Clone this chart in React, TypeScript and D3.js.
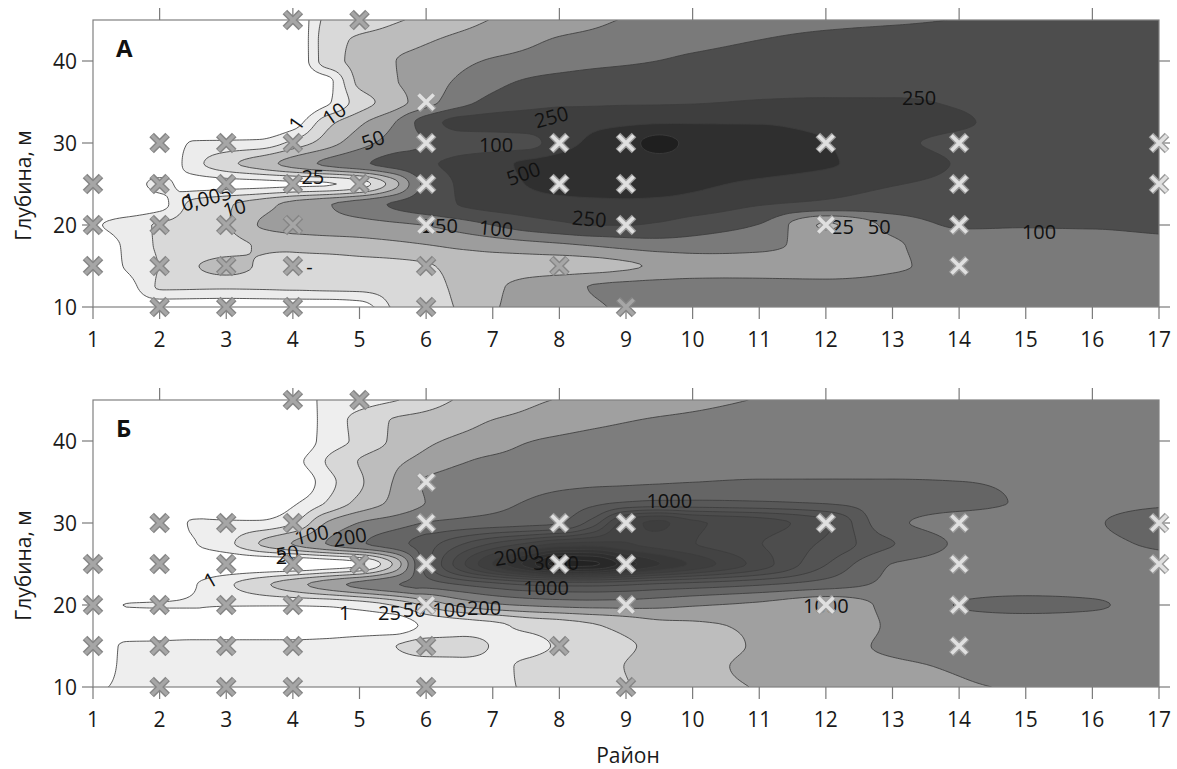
import React, { useMemo } from 'react';
import * as d3 from 'd3';

// ---------- DATA ----------
// grid knots: district (x) and depth (rows, top to bottom)
const districtKnots = [1, 1.5, 2, 2.5, 3, 3.5, 4, 4.5, 5, 5.5, 6, 6.5, 7, 7.5, 8, 8.5, 9, 9.5, 10, 11, 12, 13, 14, 15, 16, 17];
const depthKnots = [45, 42.5, 40, 37.5, 35, 32.5, 30, 27.5, 25, 22.5, 20, 17.5, 15, 12.5, 10];

// contour levels
const levelsA = [0.005, 1, 10, 25, 50, 100, 250, 500, 1000];
const levelsB = [1, 25, 50, 100, 200, 500, 1000, 1200, 1400, 1600, 1800, 2000, 2200, 2400, 2600, 2800, 3000];

// panel A abundance estimated on the knot grid
const abundanceA = [
  [0, 0, 0, 0, 0, 0, 0, 2.8, 4.6, 8.7, 13.8, 19.8, 26, 32.5, 38.8, 45, 52.5, 57.5, 62.5, 70, 80, 90, 107, 145, 168, 175],
  [0, 0, 0, 0, 0, 0, 0, 5.5, 12.3, 17.5, 23.5, 31, 37.5, 45, 55, 62.5, 70, 77.5, 85, 102, 145, 168, 175, 175, 175, 175],
  [0, 0, 0, 0, 0, 0, 0, 5.5, 14.5, 24.3, 33.8, 43.8, 55, 65, 75, 85, 92.5, 102, 130, 160, 175, 175, 175, 175, 175, 175],
  [0, 0, 0, 0, 0, 0, 0, 0.003, 13.8, 23.5, 37.5, 57.5, 85, 115, 152, 175, 190, 198, 205, 212, 205, 190, 182, 175, 175, 175],
  [0, 0, 0, 0, 0, 0, 0, 0.004, 5.5, 17.5, 40, 80, 145, 190, 220, 228, 235, 238, 242, 262, 275, 275, 235, 190, 175, 175],
  [0, 0, 0, 0, 0, 0, 0.0025, 6.4, 22, 47.5, 175, 325, 350, 375, 400, 437, 462, 480, 487, 487, 425, 350, 275, 205, 175, 175],
  [0, 0, 0, 0.1, 0.2, 0.3, 3.7, 17.5, 40, 70, 97.5, 175, 175, 190, 400, 600, 800, 1200, 850, 700, 520, 300, 220, 190, 175, 175],
  [0, 0, 0, 0.6, 7.3, 17.5, 35, 60, 90, 160, 228, 312, 425, 575, 700, 750, 775, 775, 750, 700, 550, 375, 242, 205, 182, 175],
  [0, 0.0015, 0.3, 0.0025, 0.003, 0.0035, 0.004, 0.0045, 0.5, 17.5, 145, 275, 375, 510, 650, 700, 700, 675, 600, 450, 350, 262, 220, 190, 175, 175],
  [0, 0, 0.003, 3.7, 8.65, 19, 32.5, 47.5, 75, 115, 190, 255, 325, 375, 412, 437, 450, 437, 400, 262, 220, 190, 175, 160, 145, 145],
  [0.004, 0.5, 1.9, 3.7, 9.1, 26, 32.5, 37.5, 40, 45, 52, 75, 102, 175, 220, 255, 255, 228, 175, 98, 23.5, 65, 115, 107, 107, 115],
  [0, 0.2, 1.9, 3.7, 6.4, 11.5, 14.5, 16.75, 19, 21.25, 24.25, 30, 35, 40, 45, 52, 65, 75, 77.5, 65, 40, 47.5, 75, 85, 90, 92.5],
  [0.001, 0.1, 1.45, 9.1, 14.5, 9.1, 5.5, 5.5, 6.4, 7.3, 9.1, 14.5, 17.5, 17.5, 17.5, 19, 22.75, 28.75, 33.75, 37.5, 37.5, 47.5, 60, 67.5, 70, 72.5],
  [0, 0.0025, 1.9, 2.8, 2.8, 2.8, 2.8, 3.25, 3.7, 4.6, 7.3, 13, 22, 32.5, 42.5, 52, 60, 65, 67.5, 65, 62.5, 65, 67.5, 70, 72.5, 75],
  [0, 0, 0, 0, 0, 0, 0, 0, 0.0015, 1.9, 6.4, 11.5, 23.5, 32.5, 40, 47.5, 55, 60, 65, 67.5, 67.5, 70, 72.5, 75, 75, 75],
];

// panel Б abundance estimated on the knot grid
const abundanceB = [
  [0, 0, 0, 0, 0, 0, 0, 8.2, 13, 22.6, 37.5, 55, 72.5, 90, 105, 120, 135, 150, 170, 215, 290, 320, 335, 350, 350, 350],
  [0, 0, 0, 0, 0, 0, 0, 10.6, 32.5, 52.5, 67.5, 82.5, 102, 125, 150, 175, 195, 230, 260, 320, 350, 365, 365, 350, 350, 350],
  [0, 0, 0, 0, 0, 0, 0, 11.8, 31, 57.5, 90, 120, 150, 195, 245, 290, 320, 350, 365, 380, 380, 380, 365, 350, 350, 350],
  [0, 0, 0, 0, 0, 0, 0.6, 26, 52.5, 87.5, 135, 190, 260, 305, 335, 365, 395, 410, 425, 440, 440, 425, 395, 365, 350, 350],
  [0, 0, 0, 0, 0, 0, 0, 15.4, 46, 102, 230, 320, 365, 395, 425, 455, 470, 485, 498, 525, 525, 525, 505, 470, 410, 380],
  [0, 0, 0, 0, 0, 0, 0.8, 26, 65, 120, 205, 320, 410, 525, 700, 875, 1010, 1040, 1040, 1020, 950, 750, 600, 485, 455, 470],
  [0, 0, 0, 3.4, 4.6, 5.8, 22.6, 105, 210, 350, 525, 650, 750, 850, 975, 1300, 1900, 2040, 1840, 1700, 1440, 600, 410, 425, 485, 625],
  [0, 0, 0, 0.9, 17.8, 52, 105, 205, 455, 800, 1100, 1360, 1610, 1810, 2010, 2060, 2010, 1920, 1810, 1610, 1360, 1010, 470, 410, 455, 550],
  [0, 0, 0, 0, 0, 0, 0, 0.3, 0.8, 52, 1100, 1710, 2210, 2660, 3080, 3040, 2700, 2410, 2160, 1710, 1210, 495, 410, 395, 410, 425],
  [0, 0, 0.2, 0.9, 20, 42.5, 80, 150, 290, 470, 700, 1005, 1120, 1220, 1260, 1260, 1220, 1160, 1120, 1020, 750, 440, 380, 380, 380, 380],
  [0.3, 1.5, 2.2, 2.2, 2.2, 2.2, 2.2, 3.4, 10.6, 26, 60, 120, 180, 230, 290, 320, 320, 290, 230, 180, 140, 290, 520, 650, 560, 350],
  [0, 0.3, 0.3, 0.3, 0.3, 0.3, 0.3, 0.3, 0.3, 0.3, 5.8, 13, 20.2, 30, 37.5, 47.5, 65, 85, 92.5, 115, 150, 230, 350, 350, 350, 350],
  [0.3, 3.4, 4.6, 5.8, 5.8, 5.8, 5.8, 8.2, 15.4, 24, 35, 35, 24, 20.2, 27.5, 37.5, 47.5, 60, 80, 110, 165, 240, 320, 350, 350, 350],
  [0.6, 3.4, 5.8, 5.8, 5.8, 5.8, 5.8, 7, 9.4, 13, 15.4, 17.8, 21.4, 27.5, 35, 42.5, 51, 65, 85, 120, 160, 185, 230, 320, 350, 350],
  [0.9, 3.4, 5.8, 5.8, 5.8, 5.8, 5.8, 7, 8.2, 10.6, 13, 17.8, 22.6, 26.2, 32.5, 40, 48.75, 65, 85, 105, 140, 170, 190, 230, 280, 305],
];

// sampling stations
const stationDistricts = [1, 1, 1, 2, 2, 2, 2, 2, 3, 3, 3, 3, 3, 4, 4, 4, 4, 4, 4, 5, 5, 6, 6, 6, 6, 6, 6, 8, 8, 8, 9, 9, 9, 9, 12, 12, 14, 14, 14, 14, 17, 17];
const stationDepths = [15, 20, 25, 10, 15, 20, 25, 30, 10, 15, 20, 25, 30, 10, 15, 20, 25, 30, 45, 25, 45, 10, 15, 20, 25, 30, 35, 15, 25, 30, 10, 20, 25, 30, 20, 30, 15, 20, 25, 30, 25, 30];

// contour labels (text at district / depth)
const labelsA = [
  { x: 4.05, d: 32.4, text: '1', angle: -55 },
  { x: 4.62, d: 33.6, text: '10', angle: -35 },
  { x: 5.2, d: 30.4, text: '50', angle: -20 },
  { x: 4.3, d: 25.9, text: '25', angle: 0 },
  { x: 2.45, d: 23.0, text: '1', angle: -15 },
  { x: 2.7, d: 23.3, text: '0,005', angle: -15 },
  { x: 3.12, d: 22.1, text: '10', angle: -15 },
  { x: 4.25, d: 14.9, text: '-', angle: 0 },
  { x: 7.05, d: 29.8, text: '100', angle: 0 },
  { x: 7.88, d: 33.2, text: '250', angle: -15 },
  { x: 7.46, d: 26.3, text: '500', angle: -20 },
  { x: 8.45, d: 20.8, text: '250', angle: 5 },
  { x: 5.97, d: 20.0, text: '2', angle: 0 },
  { x: 6.22, d: 20.0, text: '250', angle: 0 },
  { x: 7.05, d: 19.6, text: '100', angle: 5 },
  { x: 13.4, d: 35.5, text: '250', angle: 0 },
  { x: 15.2, d: 19.2, text: '100', angle: 0 },
  { x: 12.25, d: 19.8, text: '25', angle: 0 },
  { x: 12.8, d: 19.8, text: '50', angle: 0 },
];
const labelsB = [
  { x: 4.28, d: 28.6, text: '100', angle: -12 },
  { x: 4.85, d: 28.3, text: '200', angle: -10 },
  { x: 3.83, d: 25.9, text: '2', angle: 0 },
  { x: 3.92, d: 26.3, text: '50', angle: -10 },
  { x: 2.76, d: 23.05, text: '1', angle: -30 },
  { x: 4.78, d: 19.1, text: '1', angle: 0 },
  { x: 5.45, d: 19.1, text: '25', angle: 0 },
  { x: 5.82, d: 19.5, text: '50', angle: 0 },
  { x: 6.35, d: 19.5, text: '100', angle: 0 },
  { x: 6.87, d: 19.7, text: '200', angle: 0 },
  { x: 7.8, d: 22.1, text: '1000', angle: 0 },
  { x: 7.36, d: 26.1, text: '2000', angle: -10 },
  { x: 7.95, d: 25.2, text: '3000', angle: 0 },
  { x: 9.65, d: 32.8, text: '1000', angle: 0 },
  { x: 12.0, d: 20.0, text: '1000', angle: 0 },
];

const districtTicks = d3.range(1, 18);
const depthTicks = [10, 20, 30, 40];

// ---------- STYLES ----------
const colorsA = ['#ffffff', '#ececec', '#d9d9d9', '#bcbcbc', '#9d9d9d', '#7a7a7a', '#4d4d4d', '#3e3e3e', '#2f2f2f', '#1f1f1f'];
const darkRamp = d3.interpolateRgb('#585858', '#232323');
const colorsB = ['#ffffff', '#eeeeee', '#d7d7d7', '#bdbdbd', '#a0a0a0', '#7d7d7d', '#656565',
  ...d3.range(11).map((i) => darkRamp(i / 10))];
const FONT = "'Open Sans', 'Noto Sans', sans-serif";

const X0 = 93, X1 = 1159;
const xScale = d3.scaleLinear().domain([1, 17]).range([X0, X1]);

function monotone(xs: number[], ys: number[]) {
  const n = xs.length;
  const h: number[] = [], dl: number[] = [];
  for (let i = 0; i < n - 1; i++) { h[i] = xs[i + 1] - xs[i]; dl[i] = (ys[i + 1] - ys[i]) / h[i]; }
  const m: number[] = new Array(n);
  m[0] = dl[0]; m[n - 1] = dl[n - 2];
  for (let i = 1; i < n - 1; i++) {
    if (dl[i - 1] * dl[i] <= 0) m[i] = 0;
    else {
      const w1 = 2 * h[i] + h[i - 1], w2 = h[i] + 2 * h[i - 1];
      m[i] = (w1 + w2) / (w1 / dl[i - 1] + w2 / dl[i]);
    }
  }
  return (x: number) => {
    let k = 0;
    while (k < n - 2 && x > xs[k + 1]) k++;
    const hh = h[k];
    const t = Math.max(0, Math.min(1, (x - xs[k]) / hh));
    const t2 = t * t, t3 = t2 * t;
    return (2 * t3 - 3 * t2 + 1) * ys[k] + (t3 - 2 * t2 + t) * hh * m[k] + (-2 * t3 + 3 * t2) * ys[k + 1] + (t3 - t2) * hh * m[k + 1];
  };
}

function buildField(grid: number[][], levels: number[]) {
  const toT = d3.scaleLinear().domain([0, ...levels]).range(d3.range(levels.length + 1));
  const tg = grid.map((row) => row.map((v) => toT(v)));
  const nx = 321, ny = 141;
  const dx = 16 / (nx - 1), dy = 35 / (ny - 1);
  const rowsFine = tg.map((row) => { const f = monotone(districtKnots, row); return d3.range(nx).map((i) => f(1 + i * dx)); });
  const uKnots = depthKnots.map((d) => 45 - d);
  const values: number[] = new Array(nx * ny);
  for (let i = 0; i < nx; i++) {
    const g = monotone(uKnots, rowsFine.map((r) => r[i]));
    for (let j = 0; j < ny; j++) values[j * nx + i] = g(j * dy);
  }
  return { values, nx, ny, dx, dy };
}

// marker shading as seen in the picture: grey markers on the left and shallow stations
const isGreyMarker = (x: number, d: number) => x <= 5 || (d <= 15 && x <= 9);

function Panel({ id, title, top, bottom, grid, levels, colors, labels, showXTitle }: any) {
  const yScale = d3.scaleLinear().domain([10, 45]).range([bottom, top]);
  const paths = useMemo(() => {
    const { values, nx, ny, dx, dy } = buildField(grid, levels);
    const cont = d3.contours().size([nx, ny]).thresholds(d3.range(1, levels.length + 1))(values);
    const proj = d3.geoTransform({
      point: function (x: number, y: number) {
        (this as any).stream.point(xScale(1 + (x - 0.5) * dx), yScale(45 - (y - 0.5) * dy));
      },
    });
    const gp = d3.geoPath(proj as any);
    return cont.map((c: any, k: number) => ({ d: gp(c) || '', fill: colors[k + 1] }));
  }, [grid, levels]);

  const clipId = `clip-${id}`;
  return (
    <g>
      <defs>
        <clipPath id={clipId}>
          <rect x={X0} y={top} width={X1 - X0} height={bottom - top} />
        </clipPath>
      </defs>
      <rect x={X0} y={top} width={X1 - X0} height={bottom - top} fill={colors[0]} />
      <g clipPath={`url(#${clipId})`}>
        {paths.map((p: any, k: number) => (
          <path key={k} d={p.d} fill={p.fill} stroke="#3c3c3c" strokeWidth={0.85} strokeLinejoin="round" />
        ))}
      </g>
      <rect x={X0} y={top} width={X1 - X0} height={bottom - top} fill="none" stroke="#808080" strokeWidth={1.2} />
      {districtTicks.map((v) => (
        <g key={`bx${v}`}>
          <line x1={xScale(v)} x2={xScale(v)} y1={bottom} y2={bottom + 12} stroke="#7a7a7a" strokeWidth={1.2} />
          <text x={xScale(v)} y={bottom + 40} textAnchor="middle" fontFamily={FONT} fontSize={21} fill="#1a1a1a">{v}</text>
        </g>
      ))}
      {districtTicks.filter((v) => v % 2 === 0).map((v) => (
        <line key={`tx${v}`} x1={xScale(v)} x2={xScale(v)} y1={top} y2={top - 12} stroke="#7a7a7a" strokeWidth={1.2} />
      ))}
      {depthTicks.map((v) => (
        <g key={`y${v}`}>
          <line x1={X0} x2={X0 - 11} y1={yScale(v)} y2={yScale(v)} stroke="#7a7a7a" strokeWidth={1.2} />
          <line x1={X1} x2={X1 + 11} y1={yScale(v)} y2={yScale(v)} stroke="#7a7a7a" strokeWidth={1.2} />
          <text x={77} y={yScale(v) + 7.5} textAnchor="end" fontFamily={FONT} fontSize={21} fill="#1a1a1a">{v}</text>
        </g>
      ))}
      <text transform={`translate(31,${(top + bottom) / 2 + 22}) rotate(-90)`} textAnchor="middle" fontFamily={FONT} fontSize={21} fill="#1a1a1a">Глубина, м</text>
      <text x={116} y={top + 37} fontFamily={FONT} fontSize={24} fontWeight="bold" fill="#111">{title}</text>
      {labels.map((l: any, k: number) => (
        <text key={`l${k}`} transform={`translate(${xScale(l.x)},${yScale(l.d)}) rotate(${l.angle})`} textAnchor="middle" dominantBaseline="central" fontFamily={FONT} fontSize={20} fill="#111">{l.text}</text>
      ))}
      {stationDistricts.map((x, k) => {
        const d = stationDepths[k];
        const grey = isGreyMarker(x, d);
        const outer = grey ? '#858585' : '#9c9c9c';
        const inner = grey ? '#a6a6a6' : '#e0e0e0';
        return (
          <g key={`m${k}`} transform={`translate(${xScale(x)},${yScale(d)})`}>
            <path d="M-8,-8L8,8M-8,8L8,-8" stroke={outer} strokeWidth={6.5} fill="none" />
            <path d="M-7.6,-7.6L7.6,7.6M-7.6,7.6L7.6,-7.6" stroke={inner} strokeWidth={3.6} fill="none" />
          </g>
        );
      })}
      {showXTitle && (
        <text x={628} y={763} textAnchor="middle" fontFamily={FONT} fontSize={21} fill="#1a1a1a">Район</text>
      )}
    </g>
  );
}

export default function App() {
  return (
    <svg width={1177} height={769} style={{ position: 'absolute', left: 0, top: 0, display: 'block', background: '#fff' }}>
      <Panel id="a" title="А" top={20} bottom={307} grid={abundanceA} levels={levelsA} colors={colorsA} labels={labelsA} showXTitle={false} />
      <Panel id="b" title="Б" top={400} bottom={687} grid={abundanceB} levels={levelsB} colors={colorsB} labels={labelsB} showXTitle={true} />
    </svg>
  );
}
